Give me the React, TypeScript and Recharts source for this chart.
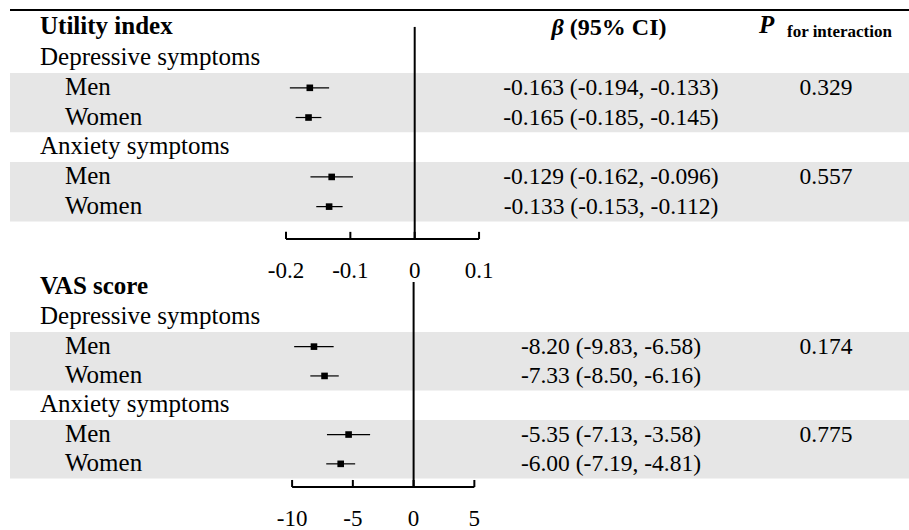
import {
  ErrorBar,
  ReferenceArea,
  ReferenceLine,
  Scatter,
  ScatterChart,
  XAxis,
  YAxis
} from "recharts";

const FONT = '"Liberation Serif", "Times New Roman", Times, serif';

const groups = ["Depressive symptoms", "Anxiety symptoms"];
const sexes = ["Men", "Women"];

const utilityBeta = [-0.163, -0.165, -0.129, -0.133];
const utilityLow = [-0.194, -0.185, -0.162, -0.153];
const utilityHigh = [-0.133, -0.145, -0.096, -0.112];
const utilityP = ["0.329", "0.557"];
const utilityTicks = [-0.2, -0.1, 0, 0.1];

const vasBeta = [-8.2, -7.33, -5.35, -6.0];
const vasLow = [-9.83, -8.5, -7.13, -7.19];
const vasHigh = [-6.58, -6.16, -3.58, -4.81];
const vasP = ["0.174", "0.775"];
const vasTicks = [-10, -5, 0, 5];

const rowTicks = [0, 1, 2, 3, 4, 5, 6];

type Panel = {
  title: string;
  beta: number[];
  low: number[];
  high: number[];
  p: string[];
  ticks: number[];
  digits: number;
  zeroPx: number;
  pxPerUnit: number;
  top: number;
  height: number;
  axisHeight: number;
  marginTop: number;
  yDomain: [number, number];
  lineTop: number;
  header: boolean;
};

const panels: Panel[] = [
  {
    title: "Utility index",
    beta: utilityBeta,
    low: utilityLow,
    high: utilityHigh,
    p: utilityP,
    ticks: utilityTicks,
    digits: 3,
    zeroPx: 414.7,
    pxPerUnit: 643.5,
    top: 0,
    height: 300,
    axisHeight: 61,
    marginTop: 10,
    yDomain: [-0.62, 7.09],
    lineTop: -0.05,
    header: true
  },
  {
    title: "VAS score",
    beta: vasBeta,
    low: vasLow,
    high: vasHigh,
    p: vasP,
    ticks: vasTicks,
    digits: 2,
    zeroPx: 413.6,
    pxPerUnit: 12.15,
    top: 262,
    height: 272,
    axisHeight: 47,
    marginTop: 20,
    yDomain: [-0.205, 6.79],
    lineTop: -0.205,
    header: false
  }
];

const WIDTH = 909;
const LEFT = 10;
const LABEL_X = 40;
const SUB_X = 65;
const BETA_X = 611;
const P_X = 826;

function ForestPanel({ panel }: { panel: Panel }) {
  const data = panel.beta.map((b, i) => ({
    row: 2 + Math.floor(i / 2) * 3 + (i % 2),
    beta: b,
    low: panel.low[i],
    high: panel.high[i]
  }));
  const xDomain = [
    (LEFT - panel.zeroPx) / panel.pxPerUnit,
    (WIDTH - panel.zeroPx) / panel.pxPerUnit
  ];
  const bottom = panel.yDomain[1];
  const tickLen = 0.24;
  const fmt = (v: number) => v.toFixed(panel.digits);

  const rowTick = (props: any) => {
    const { y, payload } = props;
    const r = payload.value as number;
    if (r === 0) {
      return (
        <g fontFamily={FONT} fill="#000">
          <text x={LABEL_X} y={y + 6} fontSize={25} fontWeight="bold">
            {panel.title}
          </text>
          {panel.header && (
            <>
              <text x={BETA_X - 2} y={y + 7} fontSize={24} fontWeight="bold" textAnchor="middle">
                <tspan fontStyle="italic">β</tspan>
                {"  (95% CI)"}
              </text>
              <text x={759} y={y + 4.5} fontSize={25} fontWeight="bold" fontStyle="italic">
                P
              </text>
              <text x={787} y={y + 9} fontSize={17} fontWeight="bold">
                for interaction
              </text>
            </>
          )}
        </g>
      );
    }
    if (r === 1 || r === 4) {
      return (
        <text x={LABEL_X} y={y + 7} fontSize={25} fontFamily={FONT} fill="#000">
          {groups[r === 1 ? 0 : 1]}
        </text>
      );
    }
    const g = r < 4 ? 0 : 1;
    const s = (r - 2) % 3;
    const i = g * 2 + s;
    return (
      <g fontFamily={FONT} fill="#000">
        <text x={SUB_X} y={y + 7} fontSize={25}>
          {sexes[s]}
        </text>
        <text x={BETA_X} y={y + 7} fontSize={23.5} textAnchor="middle">
          {`${fmt(panel.beta[i])} (${fmt(panel.low[i])}, ${fmt(panel.high[i])})`}
        </text>
        {s === 0 && (
          <text x={P_X} y={y + 7} fontSize={23.5} textAnchor="middle">
            {panel.p[g]}
          </text>
        )}
      </g>
    );
  };

  return (
    <ScatterChart
      width={WIDTH}
      height={panel.height}
      margin={{ top: panel.marginTop, right: 0, bottom: 0, left: LEFT - 1 }}
    >
      {[0, 1].map((g) => (
        <ReferenceArea
          key={g}
          x1={xDomain[0]}
          x2={xDomain[1]}
          y1={1.5 + g * 3}
          y2={3.5 + g * 3}
          fill="#e6e6e6"
          fillOpacity={1}
          stroke="none"
        />
      ))}
      {panel.header && (
        <ReferenceLine
          segment={[
            { x: xDomain[0], y: panel.yDomain[0] },
            { x: xDomain[1], y: panel.yDomain[0] }
          ]}
          stroke="#000"
          strokeWidth={2}
        />
      )}
      <ReferenceLine
        segment={[
          { x: 0, y: panel.lineTop },
          { x: 0, y: bottom }
        ]}
        stroke="#000"
        strokeWidth={2}
      />
      <ReferenceLine
        segment={[
          { x: panel.ticks[0], y: bottom },
          { x: panel.ticks[panel.ticks.length - 1], y: bottom }
        ]}
        stroke="#000"
        strokeWidth={2}
      />
      {panel.ticks.map((t) => (
        <ReferenceLine
          key={t}
          segment={[
            { x: t, y: bottom - tickLen },
            { x: t, y: bottom }
          ]}
          stroke="#000"
          strokeWidth={2}
        />
      ))}
      <XAxis
        type="number"
        dataKey="beta"
        domain={xDomain}
        allowDataOverflow
        ticks={panel.ticks}
        interval={0}
        axisLine={false}
        tickLine={false}
        height={panel.axisHeight}
        tickMargin={17}
        tick={{ fill: "#000", fontSize: 23, fontFamily: FONT }}
      />
      <YAxis
        type="number"
        dataKey="row"
        domain={panel.yDomain}
        allowDataOverflow
        reversed
        width={1}
        ticks={rowTicks}
        interval={0}
        axisLine={false}
        tickLine={false}
        tick={rowTick}
      />
      <Scatter
        data={data}
        isAnimationActive={false}
        shape={(p: any) => (
          <rect x={p.cx - 3.3} y={p.cy - 3.3} width={6.6} height={6.6} fill="#000" />
        )}
      >
        <ErrorBar
          direction="x"
          dataKey={(d: any) => [d.beta - d.low, d.high - d.beta]}
          width={0}
          stroke="#000"
          strokeWidth={1.2}
          isAnimationActive={false}
        />
      </Scatter>
    </ScatterChart>
  );
}

export default function App() {
  return (
    <div
      style={{
        position: "absolute",
        top: 0,
        left: 0,
        width: WIDTH,
        height: 530,
        background: "#fff",
        overflow: "hidden"
      }}
    >
      {panels.map((panel) => (
        <div key={panel.title} style={{ position: "absolute", top: panel.top, left: 0 }}>
          <ForestPanel panel={panel} />
        </div>
      ))}
    </div>
  );
}
